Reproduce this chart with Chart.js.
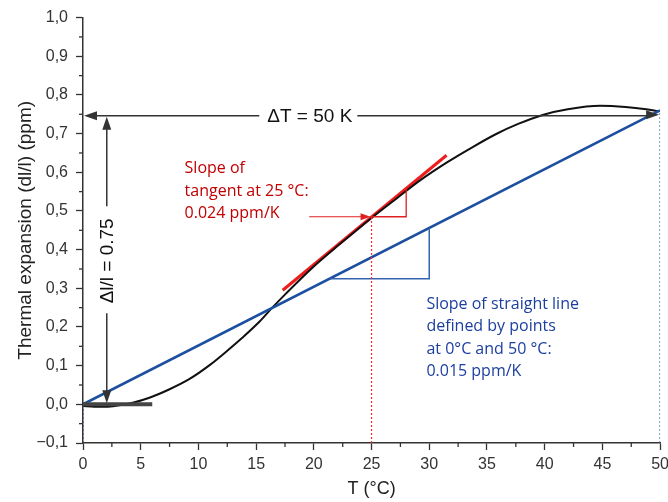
<!DOCTYPE html>
<html><head><meta charset="utf-8">
<script src="https://cdn.jsdelivr.net/npm/chart.js@4"></script>
<style>html,body{margin:0;padding:0;background:#fff;overflow:hidden}#wrap{width:668px;height:502px;overflow:hidden}</style>
</head><body>
<div id="wrap"><canvas id="c" width="674" height="502"></canvas></div>
<script>
// ---- data ----
const curveT   = [0, 1, 2, 3, 4.3, 5.75, 7.5, 9.2, 11, 12.4, 13.8, 15.3, 16.4, 17.6, 19.9, 22.2, 25, 27.2, 29.2, 31.5, 33.8, 35.8, 37.7, 39.9, 42, 44.8, 47, 48.8, 49.8];
const curveExp = [-0.004, -0.006, -0.006, -0.003, 0.004, 0.017, 0.039, 0.065, 0.102, 0.136, 0.172, 0.214, 0.25, 0.287, 0.354, 0.413, 0.482, 0.533, 0.579, 0.625, 0.666, 0.699, 0.725, 0.749, 0.763, 0.772, 0.769, 0.763, 0.758];
const lineT = [0, 50];
const lineExp = [0, 0.76];
const tangentT = [17.3, 31.5];
const tangentExp = [0.295, 0.644];
const redTriT = [25, 28, 28];
const redTriExp = [0.485, 0.485, 0.557];
const blueTriT = [21.4, 30, 30];
const blueTriExp = [0.325, 0.325, 0.456];
const xTicks = [0, 5, 10, 15, 20, 25, 30, 35, 40, 45, 50];
const yTicks = [-0.1, 0, 0.1, 0.2, 0.3, 0.4, 0.5, 0.6, 0.7, 0.8, 0.9, 1.0];
const deltaT = 50, deltaL = 0.75, tangentAt = 25;

const pts = (xs, ys) => xs.map((x, i) => ({x, y: ys[i]}));
const ARIAL = '"Liberation Sans", Arial, sans-serif';
const CAL = '"Open Sans", "Noto Sans", sans-serif';

function arrowHead(ctx, x, y, dx, dy, len, w, color) {
  const n = Math.hypot(dx, dy); dx /= n; dy /= n;
  ctx.save(); ctx.fillStyle = color; ctx.beginPath();
  ctx.moveTo(x, y);
  ctx.lineTo(x - dx * len - dy * w / 2, y - dy * len + dx * w / 2);
  ctx.lineTo(x - dx * len + dy * w / 2, y - dy * len - dx * w / 2);
  ctx.closePath(); ctx.fill(); ctx.restore();
}
function seg(ctx, x1, y1, x2, y2, color, lw) {
  ctx.save(); ctx.strokeStyle = color; ctx.lineWidth = lw; ctx.beginPath();
  ctx.moveTo(x1, y1); ctx.lineTo(x2, y2); ctx.stroke(); ctx.restore();
}

const annot = {
  id: 'annot',
  afterDraw(chart) {
    const ctx = chart.ctx, xs = chart.scales.x, ys = chart.scales.y;
    const X = v => xs.getPixelForValue(v), Y = v => ys.getPixelForValue(v);
    // minor ticks
    ctx.save(); ctx.strokeStyle = '#333'; ctx.lineWidth = 1.3;
    for (let v = 2.5; v < 50; v += 5) { ctx.beginPath(); ctx.moveTo(X(v), Y(-0.1)); ctx.lineTo(X(v), Y(-0.1) + 4); ctx.stroke(); }
    for (let k = -1; k < 20; k += 2) { const v = k * 0.05; ctx.beginPath(); ctx.moveTo(X(0), Y(v)); ctx.lineTo(X(0) - 4, Y(v)); ctx.stroke(); }
    ctx.restore();
    const gray = '#333';
    // thick bar at zero
    seg(ctx, X(0), Y(0), X(6), Y(0), '#444', 4);
    // ΔT arrow
    const yA = Y(0.746);
    ctx.save(); ctx.font = '19px ' + ARIAL; ctx.fillStyle = '#111'; ctx.textAlign = 'center'; ctx.textBaseline = 'middle';
    const label = 'ΔT = ' + deltaT + ' K';
    const cx = X(19.65); const tw = ctx.measureText(label).width;
    ctx.fillText(label, cx, yA + 1); ctx.restore();
    seg(ctx, X(0) + 10, yA, cx - tw / 2 - 8, yA, gray, 1.5);
    seg(ctx, cx + tw / 2 + 5, yA, X(50) - 10, yA, gray, 1.5);
    arrowHead(ctx, X(0) + 1, yA, -1, 0, 13, 9, gray);
    arrowHead(ctx, X(50) - 1, yA - 1, 1, 0, 13, 9, gray);
    // Δl/l arrow
    const xv = X(2.06);
    ctx.save(); ctx.font = '19px ' + ARIAL; ctx.fillStyle = '#111'; ctx.textAlign = 'center'; ctx.textBaseline = 'middle';
    const lab2 = 'Δl/l = ' + deltaL.toFixed(2);
    const cy = Y(0.371); const tw2 = ctx.measureText(lab2).width;
    ctx.translate(xv + 1, cy); ctx.rotate(-Math.PI / 2); ctx.fillText(lab2, 0, 0); ctx.restore();
    seg(ctx, xv, Y(0.746) + 10, xv, cy - tw2 / 2 - 12, gray, 1.5);
    seg(ctx, xv, cy + tw2 / 2 + 10, xv, Y(0) - 10, gray, 1.5);
    arrowHead(ctx, xv, Y(0.746) + 1, 0, -1, 13, 9, gray);
    arrowHead(ctx, xv, Y(0) - 1, 0, 1, 13, 9, gray);
    // red arrow to tangent point
    seg(ctx, X(19.6), Y(0.485), X(tangentAt) - 8, Y(0.485), '#e02020', 1.2);
    arrowHead(ctx, X(tangentAt) - 1, Y(0.485), 1, 0, 10, 7, '#e02020');
    // red text
    ctx.save(); ctx.font = '16px ' + CAL; ctx.fillStyle = '#c00000'; ctx.textBaseline = 'middle';
    ['Slope of', 'tangent at 25 °C:', '0.024 ppm/K'].forEach((t, i) => ctx.fillText(t, X(8.8), Y(0.609) + i * 22.4));
    ctx.fillStyle = '#1c3f9f';
    ['Slope of straight line', 'defined by points', 'at 0°C and 50 °C:', '0.015 ppm/K'].forEach((t, i) => ctx.fillText(t, X(29.75), Y(0.259) + i * 22.4));
    ctx.restore();
  }
};

const ds = (data, color, width, extra) => Object.assign({data, borderColor: color, borderWidth: width, pointRadius: 0, fill: false, tension: 0}, extra || {});

new Chart(document.getElementById('c'), {
  type: 'line',
  data: {
    datasets: [
      ds(pts([0, 0], [-0.1, 0]), '#3050a0', 1, {borderDash: [2, 2]}),
      ds(pts([tangentAt, tangentAt], [-0.1, 0.485]), '#ff2a2a', 1.2, {borderDash: [2, 2]}),
      ds(pts([50, 50], [-0.1, 0.76]), '#2850b0', 1.2, {borderDash: [2, 2]}),
      ds(pts(blueTriT, blueTriExp), '#3462b0', 1.5),
      ds(pts(redTriT, redTriExp), '#e02020', 1.3),
      ds(pts(lineT, lineExp), '#1d4fa0', 2.6),
      ds(pts(curveT, curveExp), '#111111', 2, {cubicInterpolationMode: 'monotone'}),
      ds(pts(tangentT, tangentExp), '#ee1c1c', 3)
    ]
  },
  options: {
    responsive: false, animation: false,
    layout: {padding: {top: 16, right: 0, bottom: 0, left: 0}},
    plugins: {legend: {display: false}, tooltip: {enabled: false}},
    scales: {
      x: {
        type: 'linear', min: 0, max: 50,
        afterBuildTicks: s => { s.ticks = xTicks.map(v => ({value: v})); },
        afterFit: s => { s.height = 59; },
        grid: {drawOnChartArea: false, drawTicks: true, tickLength: 7, tickColor: '#333', tickWidth: 1.3},
        border: {color: '#333', width: 1.5},
        ticks: {font: {family: ARIAL, size: 16}, color: '#333', padding: 5, maxRotation: 0},
        title: {display: true, text: 'T (°C)', font: {family: ARIAL, size: 18}, color: '#222', padding: {top: 0, bottom: 2}}
      },
      y: {
        type: 'linear', min: -0.1, max: 1.0,
        afterBuildTicks: s => { s.ticks = yTicks.map(v => ({value: v})); },
        afterFit: s => { s.width = 83; },
        grid: {drawOnChartArea: false, drawTicks: true, tickLength: 7, tickColor: '#333', tickWidth: 1.3},
        border: {color: '#333', width: 1.5},
        ticks: {font: {family: ARIAL, size: 16}, color: '#333', padding: 8,
          callback: v => (v < 0 ? '\u2212' : '') + Math.abs(v).toFixed(1).replace('.', ',')},
        title: {display: true, text: 'Thermal expansion (dl/l) (ppm)', font: {family: ARIAL, size: 19}, color: '#222', padding: {top: 14, bottom: 0}}
      }
    }
  },
  plugins: [annot]
});
</script>
</body></html>
